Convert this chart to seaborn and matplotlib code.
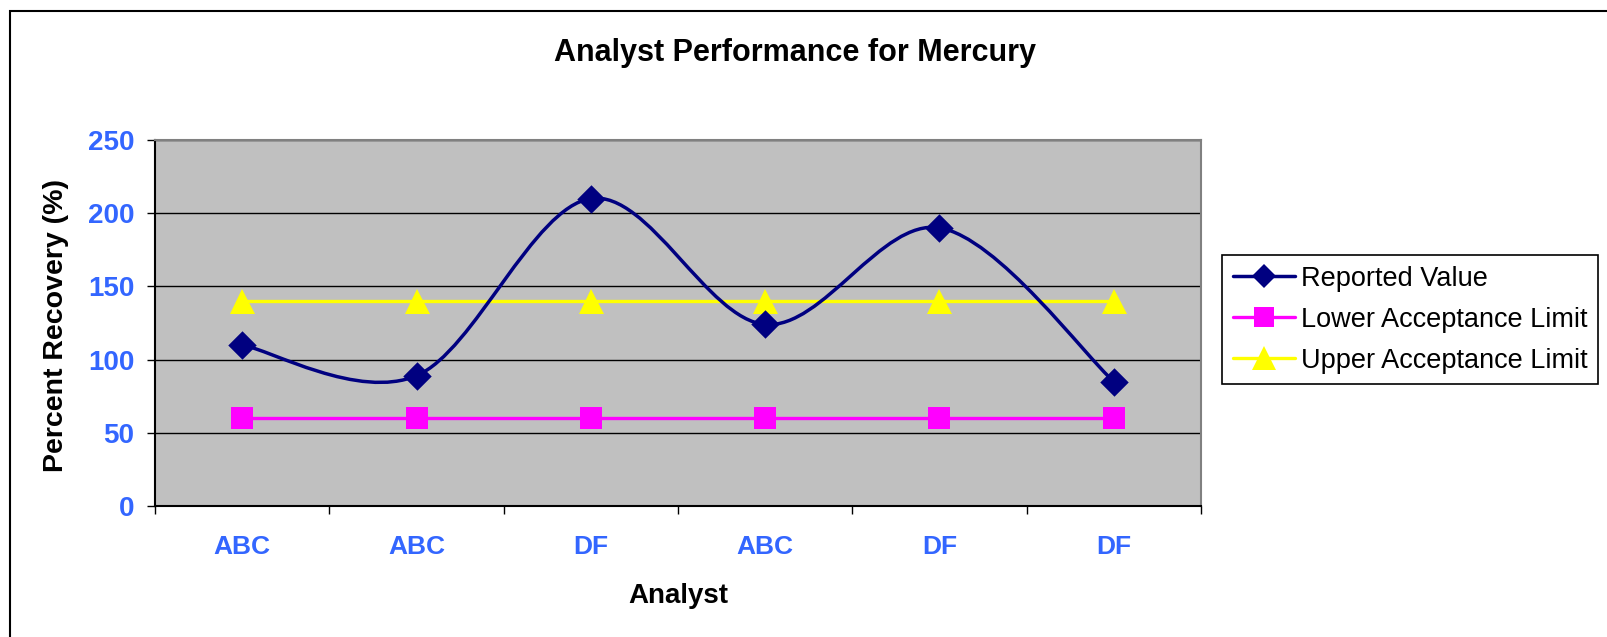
import numpy as np
import pandas as pd
import seaborn as sns
import matplotlib.pyplot as plt
from matplotlib.path import Path
from matplotlib.patches import PathPatch, Rectangle
from matplotlib.lines import Line2D

# values
analysts = ["ABC", "ABC", "DF", "ABC", "DF", "DF"]
reported = [110, 89, 210, 124, 190, 85]
lower_limit = [60, 60, 60, 60, 60, 60]
upper_limit = [140, 140, 140, 140, 140, 140]
y_ticks = [0, 50, 100, 150, 200, 250]

df = pd.DataFrame({
    "pos": range(len(analysts)),
    "analyst": analysts,
    "Reported Value": reported,
    "Lower Acceptance Limit": lower_limit,
    "Upper Acceptance Limit": upper_limit,
})

NAVY = "#000080"
MAGENTA = "#ff00ff"
YELLOW = "#ffff00"
TICK_BLUE = "#3366ff"

sns.set_style("white")
plt.rcParams["font.family"] = ["Liberation Sans", "DejaVu Sans"]
plt.rcParams["text.color"] = "black"
plt.rcParams["axes.labelcolor"] = "black"

W, H = 1608, 637
fig = plt.figure(figsize=(W / 100, H / 100), dpi=100)
ax = fig.add_axes([155 / W, 1 - 506 / H, (1201 - 155) / W, (506 - 140) / H])
ax.set_facecolor("#c0c0c0")

# acceptance limits
sns.lineplot(data=df, x="pos", y="Lower Acceptance Limit", color=MAGENTA, lw=2.4,
             marker="s", markersize=15.5, markeredgewidth=0, ax=ax, zorder=3)
sns.lineplot(data=df, x="pos", y="Upper Acceptance Limit", color=YELLOW, lw=2.4,
             marker="^", markersize=18, markeredgewidth=0, ax=ax, zorder=3)

# reported value, smoothed like Excel (cubic bezier through the points)
pts = np.column_stack([df["pos"], df["Reported Value"]]).astype(float)
padded = np.vstack([pts[0], pts, pts[-1]])
verts = [pts[0]]
codes = [Path.MOVETO]
for i in range(len(pts) - 1):
    p0, p1, p2, p3 = padded[i], padded[i + 1], padded[i + 2], padded[i + 3]
    verts += [p1 + (p2 - p0) / 6, p2 - (p3 - p1) / 6, p2]
    codes += [Path.CURVE4] * 3
ax.add_patch(PathPatch(Path(verts, codes), fill=False, ec=NAVY, lw=2.5,
                       zorder=4, joinstyle="round", capstyle="round"))
sns.scatterplot(data=df, x="pos", y="Reported Value", marker="D", s=210,
                color=NAVY, linewidth=0, ax=ax, zorder=5)

# axes
ax.set_xlim(-0.5, len(analysts) - 0.5)
ax.set_ylim(0, 250)
ax.set_yticks(y_ticks)
ax.set_yticklabels([str(v) for v in y_ticks])
ax.yaxis.grid(True, color="black", lw=1)
ax.xaxis.grid(False)

ax.set_xticks(np.arange(len(analysts) + 1) - 0.5)
ax.set_xticklabels([])
ax.set_xticks(np.arange(len(analysts)), minor=True)
ax.set_xticklabels(analysts, minor=True)

ax.tick_params(axis="y", left=True, length=6, width=1, color="black", pad=9,
               labelsize=20, labelcolor=TICK_BLUE)
ax.tick_params(axis="x", which="major", bottom=True, length=6, width=1, color="black")
ax.tick_params(axis="x", which="minor", bottom=True, length=0, pad=21,
               labelsize=19, labelcolor=TICK_BLUE)
for lab in ax.get_yticklabels() + ax.get_xticklabels(minor=True):
    lab.set_fontweight("bold")

for side in ["left", "bottom"]:
    ax.spines[side].set_color("black")
    ax.spines[side].set_linewidth(1.5)
for side in ["top", "right"]:
    ax.spines[side].set_color("#808080")
    ax.spines[side].set_linewidth(1.5)

ax.set_xlabel("Analyst", fontsize=20, fontweight="bold", color="black")
ax.xaxis.set_label_coords(0.5, -0.21)
ax.set_ylabel("Percent Recovery (%)", fontsize=20.5, fontweight="bold", color="black")
ax.yaxis.set_label_coords(-0.082, 0.493)

fig.text(795 / W, 1 - 53 / H, "Analyst Performance for Mercury", fontsize=22,
         fontweight="bold", ha="center", va="center", color="black")

handles = [
    Line2D([], [], color=NAVY, lw=2.5, marker="D", markersize=12.5, markeredgewidth=0),
    Line2D([], [], color=MAGENTA, lw=2.4, marker="s", markersize=14.5, markeredgewidth=0),
    Line2D([], [], color=YELLOW, lw=2.4, marker="^", markersize=17, markeredgewidth=0),
]
labels = ["Reported Value", "Lower Acceptance Limit", "Upper Acceptance Limit"]
leg = fig.legend(handles, labels, loc="upper left", bbox_to_anchor=(1222 / W, 1 - 255 / H),
                 frameon=True, fancybox=False, edgecolor="black", framealpha=1,
                 fontsize=19.5, handlelength=2.3, handletextpad=0.2, borderpad=0.4,
                 labelspacing=0.55, borderaxespad=0, labelcolor="black")
leg.get_frame().set_linewidth(1.2)

# outer chart border
fig.add_artist(Rectangle((10 / W, -0.1), 1.2, 1 - 11 / H + 0.1, transform=fig.transFigure,
                         fill=False, ec="black", lw=1.5))

fig.savefig("out.png", dpi=100)
